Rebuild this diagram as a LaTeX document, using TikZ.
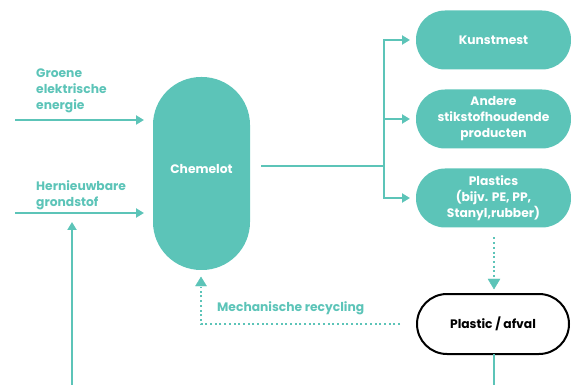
\documentclass[tikz,border=0pt]{standalone}
\usepackage{fontspec}
\setmainfont{Poppins}
\usetikzlibrary{arrows.meta}
\definecolor{teal1}{HTML}{5CC4B8}
\tikzset{
  tip/.style={-{Triangle[length=8pt,width=9pt]}},
  flow/.style={teal1, line width=2.4pt},
  dotflow/.style={teal1, line width=2.2pt, dash pattern=on 2pt off 2.7pt},
  txt/.style={font=\bfseries\fontsize{12.3}{16}\selectfont},
  prod/.style={txt, fill=teal1, text=white, rounded corners=29pt, minimum width=155pt, minimum height=59pt, inner sep=0pt, outer sep=0pt, align=center},
  lbl/.style={txt, text=teal1, align=left, inner sep=0pt}
}
\begin{document}
\begin{tikzpicture}[x=1pt,y=-1pt]
\useasboundingbox (0,0) rectangle (571,385);
\node[txt, fill=teal1, text=white, rounded corners=48pt, minimum width=97pt, minimum height=193pt, inner sep=0pt, outer sep=0pt] (chem) at (201.5,173.5) {\raisebox{8.5pt}{Chemelot}};
\node[prod] (kunst) at (493.5,40) {Kunstmest};
\node[prod] (andere) at (493.5,119) {Andere\\stikstofhoudende\\producten};
\node[prod] (plast) at (493.5,198) {Plastics\\(bijv. PE, PP,\\Stanyl,rubber)};
\node[txt, draw=black, line width=2pt, fill=white, rounded corners=30pt, minimum width=152pt, minimum height=60pt, inner sep=0pt, outer sep=0pt] (afval) at (493,324) {Plastic / afval};
\node[lbl, anchor=north west] (groene) at (36,68.5) {Groene\\elektrische\\energie};
\node[lbl, anchor=north west] (hern) at (36,180) {Hernieuwbare\\grondstof};
\node[lbl, anchor=south west] (mech) at (217,315) {Mechanische recycling};
\coordinate (g0) at (15,120);
\coordinate (h0) at (15,213);
\coordinate (b0) at (72,385);
\coordinate (c0) at (261,166);
\coordinate (split) at (384,166);
\coordinate (d0) at (400,324);
\coordinate (a0) at (494,385);
\draw[flow,tip] (g0) -- ([xshift=-9pt]g0 -| chem.west);
\draw[flow,tip] (h0) -- ([xshift=-9pt]h0 -| chem.west);
\draw[flow,tip] (b0) -- (72,222);
\draw[flow] (c0) -- (split);
\draw[flow,tip] (split) |- ([xshift=-6pt]kunst.west);
\draw[flow,tip] (split) |- ([xshift=-6pt]andere.west);
\draw[flow,tip] (split) |- ([xshift=-6pt]plast.west);
\draw[dotflow] ([yshift=-10pt]plast.south -| 494,0) -- (494,280);
\draw[teal1,fill=teal1] (488,279) -- (500,279) -- (494,289) -- cycle;
\draw[flow] (afval.south -| a0) -- (a0);
\draw[dotflow] (d0) -- (201,324) -- (201,287);
\draw[teal1,fill=teal1] (195.5,286) -- (206.5,286) -- (201,277) -- cycle;
\end{tikzpicture}
\end{document}
